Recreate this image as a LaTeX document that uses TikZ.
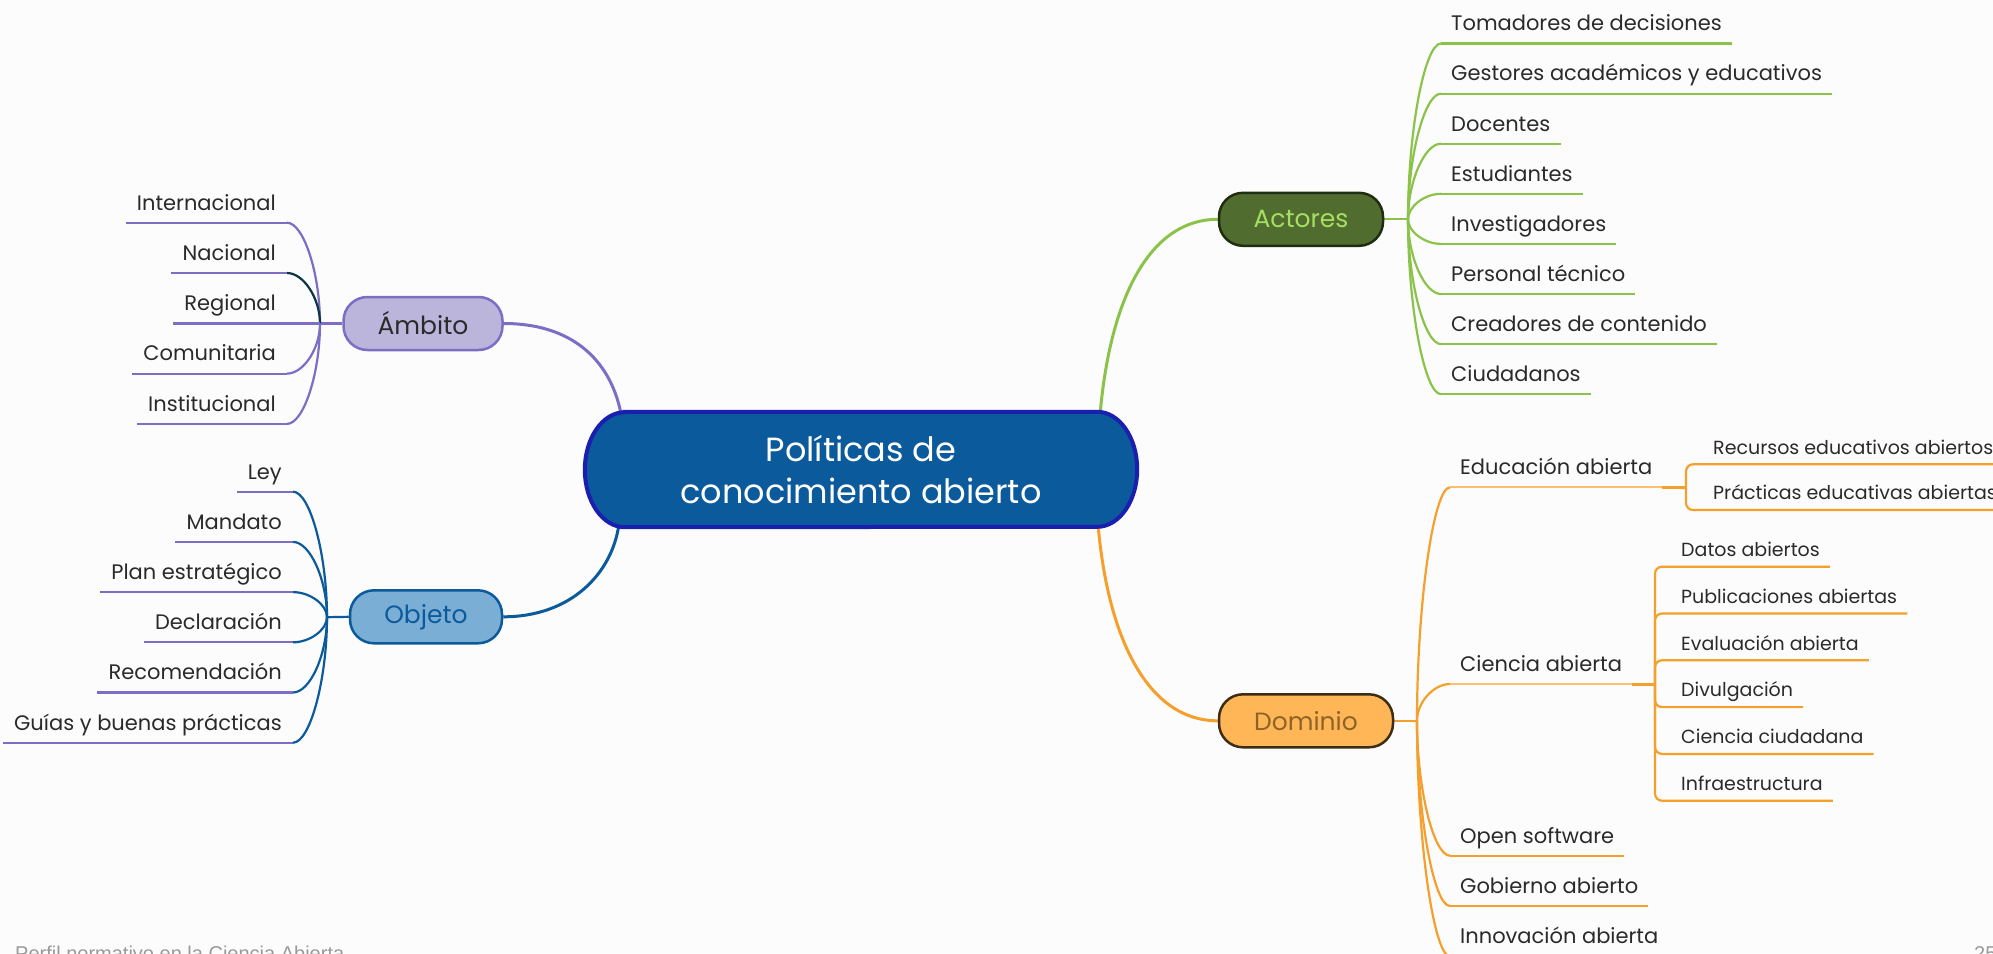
\documentclass[tikz,border=0pt]{standalone}
\usepackage{fontspec}
\setmainfont{Poppins}
\newfontfamily\footfont{Liberation Sans}
\usetikzlibrary{calc}
\definecolor{bgc}{HTML}{FCFCFC}
\definecolor{purp}{HTML}{7D6DC5}
\definecolor{ambfill}{HTML}{BCB5DB}
\definecolor{blu}{HTML}{0B5A9C}
\definecolor{cborder}{HTML}{1B1FB0}
\definecolor{objfill}{HTML}{7AAED5}
\definecolor{grn}{HTML}{8BC34A}
\definecolor{actfill}{HTML}{506C2F}
\definecolor{actborder}{HTML}{1F2E10}
\definecolor{acttext}{HTML}{A6DF62}
\definecolor{org}{HTML}{F5A02C}
\definecolor{lorg}{HTML}{FFBF70}
\definecolor{domfill}{HTML}{FFB657}
\definecolor{domborder}{HTML}{3E2D15}
\definecolor{domtext}{HTML}{8E6426}
\definecolor{txt}{HTML}{2A2A2A}
\definecolor{darkc}{HTML}{0A3744}
\definecolor{footc}{HTML}{9A9A9A}
\pgfdeclarelayer{bg}\pgfdeclarelayer{lines}\pgfdeclarelayer{shapes}
\pgfsetlayers{bg,lines,shapes,main}
% curve from bus (#3) to node #4 anchor #5, then underline to anchor #6
\newcommand\mmbr[6]{%
  \draw[#1] (#3) .. controls ($(#3)!0.5!(#3 |- #4.#5)$) and ($(#4.#5)!0.5!(#3 |- #4.#5)$) .. (#4.#5);
  \draw[#2] (#4.#5) -- (#4.#6);}
\newcommand\mmsub[4]{%
  \draw[#1,rounded corners=7pt] (#2) |- (#3.south west) -- (#3.#4);}
\begin{document}
\begin{tikzpicture}[x=1pt,y=-1pt,
  mainnode/.style={rounded corners=24pt,line width=2.5pt,minimum height=53pt,inner sep=0pt,font=\fontsize{25}{30}\selectfont},
  lchild/.style={anchor=south east,font=\fontsize{21}{26}\selectfont,text=txt,inner xsep=11pt,text height=16pt,text depth=6pt,inner ysep=6.5pt},
  rchild/.style={anchor=south west,font=\fontsize{21}{26}\selectfont,text=txt,inner xsep=10pt,text height=16pt,text depth=6pt,inner ysep=6.5pt},
  tchild/.style={anchor=south west,font=\fontsize{19}{24}\selectfont,text=txt,inner xsep=10pt,text height=14pt,text depth=5pt,inner ysep=5pt},
  pline/.style={draw=purp,line width=2.2pt},
  bline/.style={draw=blu,line width=2.2pt},
  gline/.style={draw=grn,line width=2.2pt},
  oline/.style={draw=org,line width=2.2pt},
  loline/.style={draw=lorg,line width=2.2pt},
  conn/.style={line width=3pt}
]
\begin{pgfonlayer}{bg}
\fill[bgc] (0,0) rectangle (1993,953);
\end{pgfonlayer}
\useasboundingbox (0,0) rectangle (1993,953);
\clip (0,0) rectangle (1993,953);

% central node
\node[minimum width=552pt,minimum height=115pt,inner sep=0pt,align=center,text=white,
  font=\fontsize{33.5}{42}\selectfont] (c) at (861,469.5) {Políticas de\\conocimiento abierto};
\begin{pgfonlayer}{shapes}
\draw[line width=4pt,draw=cborder,fill=blu] ($(c.north west)+(40,0)$) -- ($(c.north east)+(-40,0)$)
  arc[start angle=90,end angle=-90,x radius=40pt,y radius=57.5pt] -- ($(c.south west)+(40,0)$)
  arc[start angle=270,end angle=90,x radius=40pt,y radius=57.5pt] -- cycle;
\end{pgfonlayer}

% main topic nodes
\node[mainnode,draw=purp,fill=ambfill,text=txt,minimum width=159pt] (amb) at (423,323.5) {Ámbito};
\node[mainnode,draw=blu,fill=objfill,text=blu,minimum width=152pt] (obj) at (426,616.8) {Objeto};
\node[mainnode,draw=actborder,fill=actfill,text=acttext,minimum width=164pt] (act) at (1301,219.3) {Actores};
\node[mainnode,draw=domborder,fill=domfill,text=domtext,minimum width=174pt] (dom) at (1306,720.8) {Dominio};

% footer (cut by the lower edge, as in the reference)
\node[anchor=base west,font=\footfont\fontsize{20}{24}\selectfont,text=footc,inner sep=0pt] (ft) at (15,960) {Perfil normativo en la Ciencia Abierta};
\node[anchor=base west,font=\footfont\fontsize{20}{24}\selectfont,text=footc,inner sep=0pt] (pg) at (1974,960.5) {25};

% Ambito children
\node[lchild] (a1) at (287,222.7) {Internacional};
\node[lchild] (a2) at (287,273.0) {Nacional};
\node[lchild] (a3) at (287,323.5) {Regional};
\node[lchild] (a4) at (287,373.6) {Comunitaria};
\node[lchild] (a5) at (287,423.9) {Institucional};
% Objeto children
\node[lchild] (o1) at (293,491.7) {Ley};
\node[lchild] (o2) at (293,541.9) {Mandato};
\node[lchild] (o3) at (293,592.1) {Plan estratégico};
\node[lchild] (o4) at (293,642.3) {Declaración};
\node[lchild] (o5) at (293,692.5) {Recomendación};
\node[lchild] (o6) at (293,742.7) {Guías y buenas prácticas};
% Actores children
\node[rchild] (r1) at (1441,43.5) {Tomadores de decisiones};
\node[rchild] (r2) at (1441,93.6) {Gestores académicos y educativos};
\node[rchild] (r3) at (1441,143.7) {Docentes};
\node[rchild] (r4) at (1441,193.8) {Estudiantes};
\node[rchild] (r5) at (1441,243.9) {Investigadores};
\node[rchild] (r6) at (1441,294.0) {Personal técnico};
\node[rchild] (r7) at (1441,344.1) {Creadores de contenido};
\node[rchild] (r8) at (1441,394.2) {Ciudadanos};
% Dominio children
\node[rchild] (d1) at (1450,487.3) {Educación abierta};
\node[rchild] (d2) at (1450,684.0) {Ciencia abierta};
\node[rchild] (d3) at (1450,855.7) {Open software};
\node[rchild] (d4) at (1450,906.0) {Gobierno abierto};
\node[rchild] (d5) at (1450,956.3) {Innovación abierta};
% Educacion children
\node[tchild] (e1) at (1703,464.3) {Recursos educativos abiertos};
\node[tchild] (e2) at (1703,510.0) {Prácticas educativas abiertas};
% Ciencia children
\node[tchild] (s1) at (1671,566.7) {Datos abiertos};
\node[tchild] (s2) at (1671,613.5) {Publicaciones abiertas};
\node[tchild] (s3) at (1671,660.3) {Evaluación abierta};
\node[tchild] (s4) at (1671,707.1) {Divulgación};
\node[tchild] (s5) at (1671,753.9) {Ciencia ciudadana};
\node[tchild] (s6) at (1671,800.7) {Infraestructura};

\coordinate (abus) at (320,323.5);
\coordinate (obus) at (327,617.2);
\coordinate (rbus) at (1408,219.3);
\coordinate (dbus) at (1417,720.8);
\coordinate (ebus) at (1686,487.3);
\coordinate (cbus) at (1655,684.0);

\begin{pgfonlayer}{lines}
% main connectors
\draw[conn,draw=purp] ($(c.north west)+(36,1)$) .. controls ($(c.north west)+(25,-53)$) and ($(amb.east)+(67,0)$) .. (amb.east);
\draw[conn,draw=blu] ($(c.south west)+(34,-2)$) .. controls ($(c.south west)+(27,46)$) and ($(obj.east)+(68,0)$) .. (obj.east);
\draw[conn,draw=grn] ($(c.north east)+(-37,1)$) .. controls ($(c.north east)+(-27,-112)$) and ($(act.west)+(-69,0)$) .. (act.west);
\draw[conn,draw=org] ($(c.south east)+(-39,-1)$) .. controls ($(c.south east)+(-29,113)$) and ($(dom.west)+(-69,0)$) .. (dom.west);

% Ambito
\draw[pline] (amb.west) -- (abus);
\mmbr{pline}{pline}{abus}{a1}{south east}{south west}
\mmbr{draw=darkc,line width=2.2pt}{pline}{abus}{a2}{south east}{south west}
\mmbr{pline}{pline}{abus}{a3}{south east}{south west}
\mmbr{pline}{pline}{abus}{a4}{south east}{south west}
\mmbr{pline}{pline}{abus}{a5}{south east}{south west}
% Objeto
\draw[bline] (obj.west) -- (obus);
\mmbr{bline}{pline}{obus}{o1}{south east}{south west}
\mmbr{bline}{pline}{obus}{o2}{south east}{south west}
\mmbr{bline}{pline}{obus}{o3}{south east}{south west}
\mmbr{bline}{pline}{obus}{o4}{south east}{south west}
\mmbr{bline}{pline}{obus}{o5}{south east}{south west}
\mmbr{bline}{pline}{obus}{o6}{south east}{south west}
% Actores
\draw[gline] (act.east) -- (rbus);
\mmbr{gline}{gline}{rbus}{r1}{south west}{south east}
\mmbr{gline}{gline}{rbus}{r2}{south west}{south east}
\mmbr{gline}{gline}{rbus}{r3}{south west}{south east}
\mmbr{gline}{gline}{rbus}{r4}{south west}{south east}
\mmbr{gline}{gline}{rbus}{r5}{south west}{south east}
\mmbr{gline}{gline}{rbus}{r6}{south west}{south east}
\mmbr{gline}{gline}{rbus}{r7}{south west}{south east}
\mmbr{gline}{gline}{rbus}{r8}{south west}{south east}
% Dominio
\draw[oline] (dom.east) -- (dbus);
\mmbr{oline}{loline}{dbus}{d1}{south west}{south east}
\mmbr{oline}{loline}{dbus}{d2}{south west}{south east}
\mmbr{oline}{oline}{dbus}{d3}{south west}{south east}
\mmbr{oline}{oline}{dbus}{d4}{south west}{south east}
\mmbr{oline}{oline}{dbus}{d5}{south west}{south east}
% Educacion sub-branch
\draw[draw=org,line width=3pt] (d1.south east) -- (ebus);
\mmsub{oline}{ebus}{e1}{south east}
\mmsub{oline}{ebus}{e2}{south east}
% Ciencia sub-branch
\draw[draw=org,line width=3pt] (d2.south east) -- (cbus);
\mmsub{oline}{cbus}{s1}{south east}
\mmsub{oline}{cbus}{s2}{south east}
\mmsub{oline}{cbus}{s3}{south east}
\mmsub{oline}{cbus}{s4}{south east}
\mmsub{oline}{cbus}{s5}{south east}
\mmsub{oline}{cbus}{s6}{south east}
\end{pgfonlayer}
\end{tikzpicture}
\end{document}
